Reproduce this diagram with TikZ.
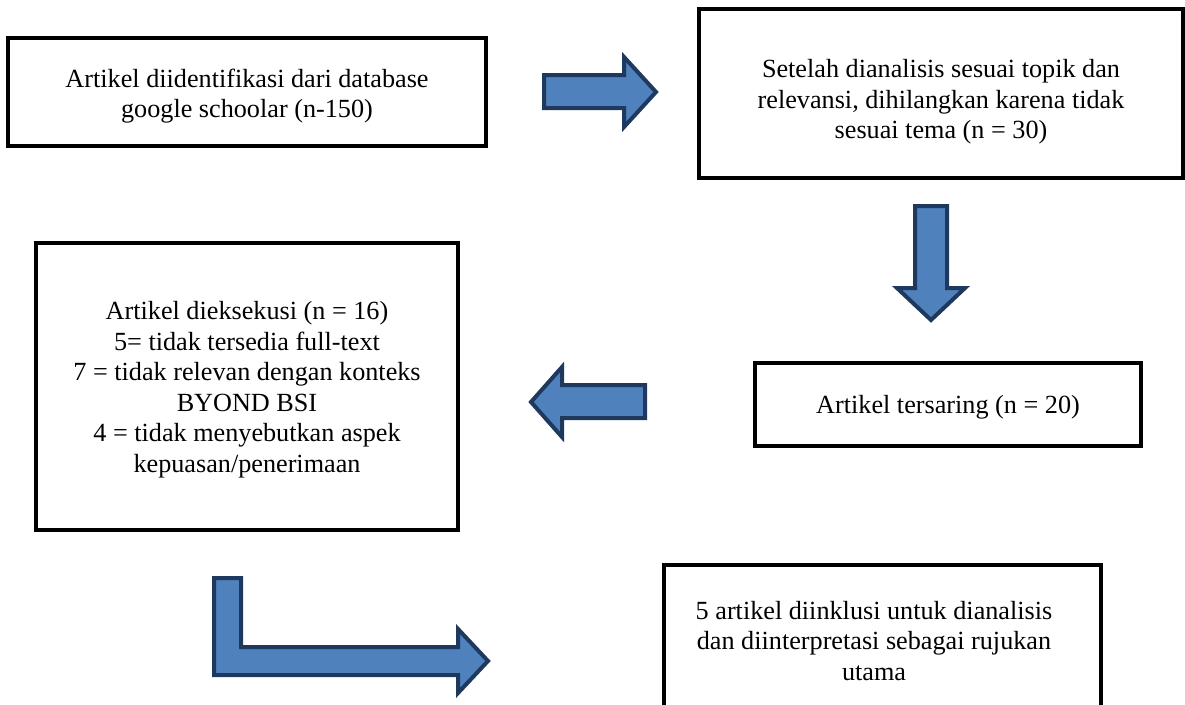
\documentclass[tikz,border=0pt]{standalone}
\usepackage{fontspec}
\setmainfont{Liberation Serif}
\usetikzlibrary{positioning}
\definecolor{arrowblue}{RGB}{79,129,189}
\definecolor{arrowline}{RGB}{31,56,93}

\begin{document}
\begin{tikzpicture}[
    x=1pt, y=-1pt,
    box/.style={rectangle, draw, line width=4pt, inner sep=0pt},
    txt/.style={align=center, inner sep=0pt, font=\fontsize{26.2}{30.5}\selectfont},
    blockarrow/.style={fill=arrowblue, draw=arrowline, line width=4pt, line join=miter}
  ]
\useasboundingbox (0,0) rectangle (1185,704);

% Boxes
\node[box, minimum width=478pt, minimum height=108pt] (ident) at (247,92) {};
\node[box, minimum width=484pt, minimum height=169pt] (screen) at (941,93.5) {};
\node[box, minimum width=386pt, minimum height=83pt] (filtered) at (948,404.5) {};
\node[box, minimum width=422pt, minimum height=287pt] (excluded) at (247,386.5) {};
\node[box, minimum width=437pt, minimum height=147pt] (included) at (882.5,638.5) {};

% Texts
\node[txt] (identtext) at ([yshift=-4pt]ident.center) {Artikel diidentifikasi dari database\\google schoolar (n-150)};
\node[txt] (screentext) at ([yshift=-8.5pt]screen.center) {Setelah dianalisis sesuai topik dan\\relevansi, dihilangkan karena tidak\\sesuai tema (n = 30)};
\node[txt] (filteredtext) at ([yshift=-2.5pt]filtered.center) {Artikel tersaring (n = 20)};
\node[txt] (excludedtext) at ([yshift=-3pt]excluded.center) {Artikel dieksekusi (n = 16)\\5= tidak tersedia full-text\\7 = tidak relevan dengan konteks\\BYOND BSI\\4 = tidak menyebutkan aspek\\kepuasan/penerimaan};
\node[txt] (includedtext) at ([xshift=-8.5pt, yshift=-2.5pt]included.center) {5 artikel diinklusi untuk dianalisis\\dan diinterpretasi sebagai rujukan\\utama};

% Arrows
\draw[blockarrow] (544,75) -- (624,75) -- (624,57) -- (656,92) -- (624,127) -- (624,108) -- (544,108) -- cycle;
\draw[blockarrow] (915,206) -- (947,206) -- (947,288) -- (965,288) -- (931,320) -- (897,288) -- (915,288) -- cycle;
\draw[blockarrow] (645,385) -- (562,385) -- (562,367) -- (531,402) -- (562,437) -- (562,418) -- (645,418) -- cycle;
\draw[blockarrow] (214,578) -- (241,578) -- (241,647) -- (458,647) -- (458,629) -- (488,661) -- (458,693) -- (458,675) -- (214,675) -- cycle;

\end{tikzpicture}
\end{document}
